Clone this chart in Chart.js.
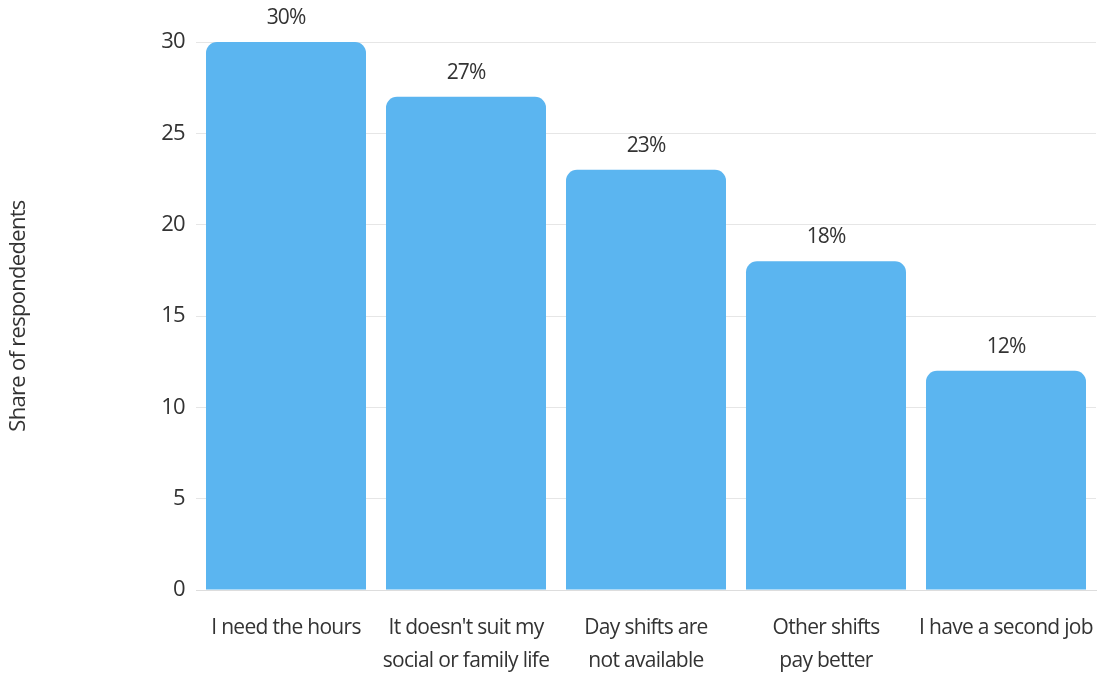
<!DOCTYPE html>
<html>
<head>
<meta charset="utf-8">
<script src="https://cdn.jsdelivr.net/npm/chart.js@4/dist/chart.umd.min.js"></script>
<style>
    html, body { margin: 0; padding: 0; background: #fff; }
    #wrap { width: 1097px; height: 675px; }
</style>
</head>
<body>
<div id="wrap"><canvas id="chart"></canvas></div>
<script>
// Данные
const categories = [
    ['I need the hours'],
    ["It doesn't suit my", 'social or family life'],
    ['Day shifts are', 'not available'],
    ['Other shifts', 'pay better'],
    ['I have a second job']
];
const shares = [30, 27, 23, 18, 12];
const yTicks = [0, 5, 10, 15, 20, 25, 30];

const FONT = '"Open Sans", Lato, sans-serif';
const TEXT = '#333333';

// Подписи над столбцами
const valueLabels = {
    id: 'valueLabels',
    afterDatasetsDraw(chart) {
        const ctx = chart.ctx;
        const meta = chart.getDatasetMeta(0);
        ctx.save();
        ctx.letterSpacing = '-0.9px';
        ctx.font = '21px ' + FONT;
        ctx.fillStyle = TEXT;
        ctx.textAlign = 'center';
        ctx.textBaseline = 'middle';
        meta.data.forEach((bar, i) => {
            ctx.fillText(shares[i] + '%', bar.x, bar.y - 24);
        });
        ctx.restore();
    }
};

const tightText = {
    id: 'tightText',
    beforeInit(chart) { chart.ctx.letterSpacing = '-0.7px'; },
    beforeDraw(chart) { chart.ctx.letterSpacing = '-0.7px'; }
};

const ctx = document.getElementById('chart').getContext('2d');
new Chart(ctx, {
    type: 'bar',
    data: {
        labels: categories,
        datasets: [{
            data: shares,
            backgroundColor: '#5bb5f0',
            borderRadius: { topLeft: 11, topRight: 11, bottomLeft: 0, bottomRight: 0 },
            borderSkipped: false,
            barPercentage: 1,
            categoryPercentage: 160 / 180
        }]
    },
    options: {
        responsive: true,
        maintainAspectRatio: false,
        animation: false,
        layout: { padding: { top: 42, right: 1, left: 0, bottom: 0 } },
        plugins: {
            legend: { display: false },
            tooltip: { enabled: false }
        },
        scales: {
            x: {
                grid: { display: false },
                border: { display: true, color: '#dddddd' },
                ticks: {
                    color: TEXT,
                    font: { family: FONT, size: 21, lineHeight: 1.57 },
                    padding: 14,
                    maxRotation: 0,
                    autoSkip: false
                },
                afterFit(scale) {
                    scale.height = 85;
                    scale.paddingLeft = 0;
                    scale.paddingRight = 0;
                }
            },
            y: {
                min: 0,
                max: 30,
                afterBuildTicks(scale) { scale.ticks = yTicks.map(v => ({ value: v })); },
                grid: { color: '#e6e6e6', drawTicks: false },
                border: { display: false },
                ticks: {
                    color: TEXT,
                    font: { family: FONT, size: 22 },
                    padding: 11
                },
                title: {
                    display: true,
                    text: 'Share of respondedents',
                    color: TEXT,
                    font: { family: FONT, size: 22 },
                    padding: { top: 6, bottom: 0 }
                },
                afterFit(scale) { scale.width = 196; }
            }
        }
    },
    plugins: [tightText, valueLabels]
});
</script>
</body>
</html>
